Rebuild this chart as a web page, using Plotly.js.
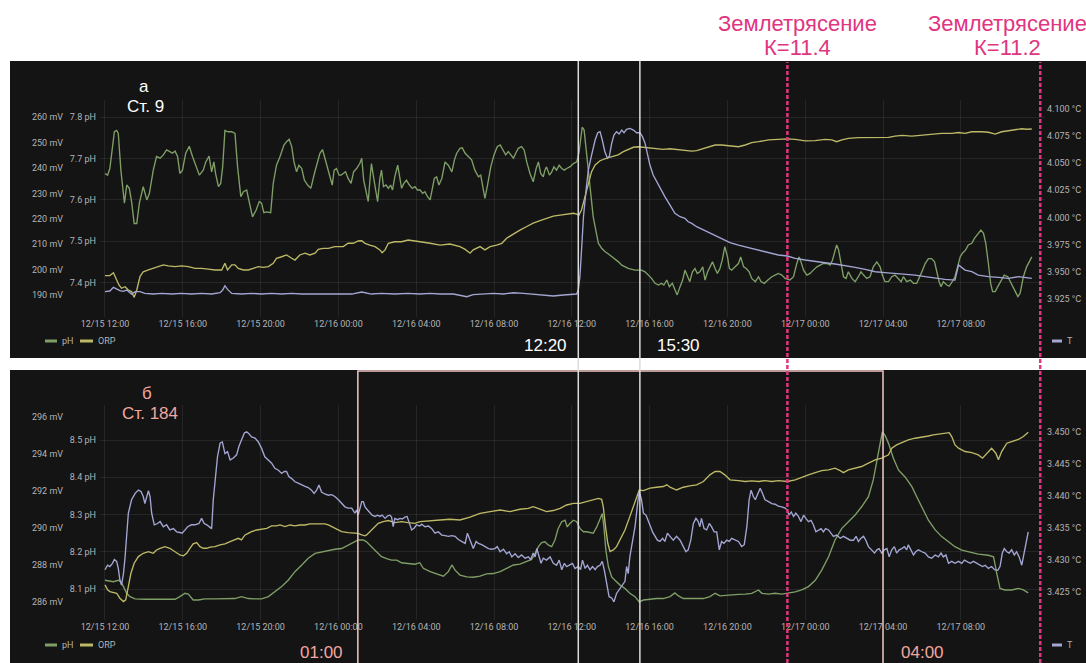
<!DOCTYPE html>
<html>
<head>
<meta charset="utf-8">
<script src="https://cdn.plot.ly/plotly-3.0.1.min.js"></script>
<style>
  html, body { margin: 0; padding: 0; background: #ffffff; }
  #chart { width: 1086px; height: 663px; }
</style>
</head>
<body>
<div id="chart"></div>
<script>
// Station 9 and station 184 monitoring, 12/15 12:00 - 12/17 11:40.
// Every series is a list of [minutes since 12/15 12:00, value].

// Station 9: pH
const st9Ph = [[0,7.664],[8,7.660],[15,7.676],[23,7.725],[29,7.765],[36,7.768],[41,7.761],[49,7.672],[60,7.592],[67,7.636],[75,7.628],[82,7.596],[90,7.543],[98,7.543],[106,7.592],[118,7.632],[129,7.600],[137,7.616],[149,7.672],[159,7.705],[170,7.701],[180,7.709],[190,7.721],[200,7.717],[208,7.713],[216,7.718],[224,7.705],[231,7.664],[239,7.672],[249,7.713],[260,7.730],[270,7.705],[281,7.680],[291,7.660],[303,7.672],[311,7.692],[321,7.706],[329,7.668],[336,7.692],[341,7.664],[350,7.632],[357,7.640],[363,7.680],[370,7.768],[380,7.765],[391,7.765],[401,7.761],[409,7.680],[419,7.608],[427,7.620],[437,7.624],[445,7.592],[455,7.559],[466,7.575],[476,7.596],[483,7.592],[490,7.569],[499,7.571],[511,7.569],[519,7.640],[529,7.684],[540,7.705],[552,7.733],[560,7.741],[568,7.747],[576,7.729],[583,7.692],[591,7.668],[598,7.684],[607,7.676],[615,7.648],[625,7.636],[635,7.628],[646,7.664],[656,7.692],[663,7.713],[671,7.722],[678,7.701],[687,7.676],[694,7.652],[701,7.636],[707,7.672],[714,7.676],[722,7.660],[728,7.660],[735,7.664],[742,7.668],[750,7.652],[759,7.640],[767,7.668],[776,7.676],[786,7.688],[792,7.701],[798,7.648],[805,7.624],[812,7.596],[819,7.664],[822,7.688],[829,7.652],[835,7.624],[841,7.596],[848,7.652],[853,7.672],[859,7.632],[867,7.636],[874,7.628],[881,7.636],[887,7.624],[894,7.656],[903,7.684],[910,7.652],[915,7.628],[922,7.640],[930,7.648],[939,7.636],[948,7.628],[956,7.632],[964,7.624],
[972,7.624],[980,7.616],[987,7.620],[994,7.609],[1003,7.600],[1010,7.632],[1016,7.652],[1023,7.656],[1030,7.636],[1039,7.652],[1049,7.692],[1059,7.684],[1070,7.668],[1078,7.697],[1085,7.713],[1095,7.725],[1102,7.726],[1111,7.713],[1121,7.705],[1131,7.697],[1141,7.672],[1152,7.656],[1159,7.660],[1165,7.632],[1172,7.604],[1180,7.636],[1190,7.680],[1200,7.709],[1210,7.729],[1219,7.733],[1227,7.721],[1236,7.709],[1244,7.717],[1252,7.709],[1260,7.701],[1267,7.713],[1275,7.725],[1285,7.729],[1293,7.721],[1301,7.692],[1311,7.664],[1321,7.644],[1330,7.676],[1337,7.692],[1344,7.664],[1352,7.656],[1357,7.672],[1362,7.680],[1371,7.660],[1378,7.668],[1385,7.680],[1393,7.672],[1401,7.684],[1409,7.676],[1417,7.672],[1424,7.676],[1434,7.680],[1445,7.688],[1455,7.692],[1462,7.713],[1467,7.753],[1472,7.776],[1478,7.769],[1484,7.721],[1491,7.672],[1499,7.608],[1506,7.559],[1514,7.527],[1522,7.495],[1532,7.483],[1542,7.475],[1553,7.469],[1563,7.463],[1573,7.458],[1584,7.450],[1594,7.442],[1604,7.437],[1614,7.434],[1635,7.430],[1655,7.430],[1666,7.426],[1676,7.418],[1686,7.410],[1697,7.398],[1707,7.394],[1717,7.398],[1724,7.394],[1733,7.406],[1741,7.390],[1750,7.398],[1758,7.382],[1765,7.370],[1774,7.390],[1782,7.406],[1789,7.430],[1797,7.414],[1804,7.402],[1812,7.426],[1820,7.434],[1827,7.422],[1835,7.426],[1844,7.438],[1851,7.406],[1859,7.426],[1866,7.438],[1874,7.450],[1882,7.434],[1889,7.422],[1897,7.434],[1904,7.454],[1912,7.487],[1920,7.463],[1926,7.434],[1933,7.430],
[1954,7.446],[1961,7.462],[1970,7.438],[1978,7.434],[1987,7.426],[1995,7.410],[2006,7.402],[2016,7.414],[2024,7.402],[2034,7.398],[2045,7.406],[2057,7.414],[2067,7.418],[2077,7.422],[2088,7.418],[2098,7.410],[2113,7.406],[2124,7.414],[2134,7.446],[2141,7.462],[2147,7.450],[2155,7.430],[2165,7.418],[2175,7.422],[2185,7.430],[2196,7.438],[2206,7.442],[2216,7.446],[2227,7.446],[2237,7.442],[2244,7.454],[2252,7.479],[2257,7.491],[2263,7.479],[2271,7.438],[2278,7.414],[2286,7.410],[2293,7.426],[2304,7.410],[2314,7.402],[2324,7.414],[2332,7.426],[2340,7.418],[2350,7.410],[2360,7.414],[2370,7.438],[2381,7.450],[2391,7.438],[2398,7.418],[2406,7.402],[2417,7.402],[2427,7.414],[2437,7.418],[2448,7.410],[2456,7.402],[2463,7.414],[2473,7.402],[2484,7.406],[2494,7.398],[2504,7.398],[2514,7.414],[2522,7.430],[2530,7.446],[2540,7.458],[2550,7.458],[2559,7.450],[2566,7.426],[2573,7.402],[2579,7.390],[2586,7.402],[2597,7.394],[2604,7.391],[2612,7.400],[2622,7.414],[2630,7.438],[2638,7.462],[2645,7.471],[2655,7.479],[2663,7.491],[2674,7.495],[2682,7.507],[2694,7.519],[2702,7.527],[2710,7.519],[2717,7.495],[2725,7.446],[2732,7.398],[2738,7.378],[2746,7.378],[2754,7.390],[2764,7.406],[2774,7.418],[2785,7.414],[2795,7.398],[2805,7.382],[2816,7.366],[2823,7.374],[2833,7.414],[2843,7.438],[2854,7.454],[2859,7.462]];

// Station 9: ORP, mV
const st9Orp = [[0,197.7],[15,197.7],[26,198.8],[33,196.6],[43,194.0],[51,192.7],[62,193.3],[72,192.0],[82,191.4],[90,189.1],[98,192.0],[108,197.3],[118,199.2],[134,199.9],[149,200.5],[164,201.2],[180,201.9],[195,201.5],[216,201.2],[236,201.5],[257,201.2],[278,200.5],[298,200.5],[319,200.2],[339,199.9],[360,199.9],[370,202.5],[378,199.9],[391,201.9],[401,201.9],[411,200.5],[427,199.9],[442,199.9],[457,200.5],[473,201.2],[488,200.9],[504,201.2],[519,202.5],[529,204.5],[545,205.1],[560,205.8],[576,204.5],[586,203.8],[601,205.8],[617,206.5],[632,205.8],[648,206.5],[658,208.0],[673,208.4],[689,208.4],[709,209.1],[735,209.1],[750,210.4],[766,210.4],[781,211.3],[792,211.4],[802,210.4],[817,209.7],[833,209.1],[848,207.8],[855,206.7],[864,207.8],[874,210.4],[894,211.0],[915,211.0],[935,211.7],[956,211.4],
[972,211.0],[1003,210.4],[1034,209.7],[1064,210.1],[1095,209.1],[1111,208.0],[1126,206.5],[1136,207.8],[1147,208.4],[1157,209.1],[1172,207.8],[1188,209.1],[1208,209.7],[1224,210.4],[1239,212.4],[1260,214.1],[1280,215.6],[1301,217.0],[1321,218.3],[1342,219.3],[1362,220.2],[1383,221.1],[1404,221.5],[1424,221.9],[1445,222.2],[1455,221.9],[1462,221.5],[1470,223.5],[1481,228.8],[1491,234.0],[1501,238.6],[1512,241.2],[1527,242.9],[1548,243.9],[1568,244.5],[1583,245.2],[1599,246.5],[1614,247.4],[1630,248.2],[1645,248.4],[1661,248.2],[1681,247.8],[1702,247.4],[1722,247.4],[1743,247.6],[1763,247.4],[1784,247.1],[1810,246.7],[1825,246.9],[1846,247.8],[1866,248.4],[1882,249.1],[1902,249.1],[1923,248.7],
[1954,248.4],[1975,249.1],[1995,250.0],[2016,250.4],[2047,251.1],[2077,251.3],[2105,251.5],[2129,251.3],[2160,250.7],[2191,250.8],[2221,251.3],[2242,251.1],[2257,250.4],[2273,251.1],[2293,251.7],[2324,252.0],[2355,252.1],[2386,252.1],[2417,252.1],[2437,252.6],[2458,252.9],[2489,252.6],[2520,253.0],[2550,253.4],[2581,253.7],[2612,253.7],[2633,254.0],[2653,253.7],[2674,254.3],[2705,254.3],[2725,254.1],[2746,253.4],[2766,254.3],[2787,254.7],[2807,255.0],[2828,255.5],[2843,255.3],[2859,255.4]];

// Station 9: water temperature, °C
const st9Temp = [[0,3.9315],[15,3.9321],[26,3.9355],[36,3.9336],[46,3.9324],[56,3.9318],[67,3.9330],[82,3.9293],[93,3.9315],[108,3.9315],[123,3.9299],[149,3.9293],[175,3.9299],[206,3.9293],[236,3.9299],[267,3.9293],[298,3.9299],[329,3.9293],[355,3.9305],[363,3.9330],[370,3.9370],[378,3.9336],[391,3.9299],[421,3.9293],[452,3.9299],[483,3.9293],[514,3.9299],[545,3.9293],[576,3.9299],[607,3.9293],[637,3.9293],[668,3.9299],[699,3.9293],[730,3.9299],[761,3.9293],[792,3.9312],[822,3.9293],[853,3.9299],[894,3.9293],[935,3.9299],[971,3.9293],
[1003,3.9299],[1034,3.9293],[1075,3.9293],[1095,3.9284],[1116,3.9268],[1136,3.9287],[1167,3.9293],[1198,3.9299],[1229,3.9293],[1260,3.9305],[1291,3.9299],[1321,3.9293],[1352,3.9284],[1383,3.9275],[1414,3.9284],[1445,3.9287],[1455,3.9293],[1460,3.9330],[1465,3.9453],[1470,3.9699],[1476,4.0006],[1484,4.0252],[1491,4.0437],[1501,4.0575],[1512,4.0714],[1520,4.0781],[1527,4.0791],[1534,4.0714],[1542,4.0606],[1550,4.0545],[1556,4.0566],[1563,4.0683],[1570,4.0760],[1578,4.0791],[1586,4.0769],[1594,4.0806],[1601,4.0781],[1609,4.0812],[1619,4.0821],[1630,4.0806],[1640,4.0781],[1650,4.0781],[1658,4.0745],[1666,4.0683],[1673,4.0591],[1681,4.0483],[1691,4.0391],[1702,4.0329],[1714,4.0268],[1727,4.0191],[1743,4.0114],[1758,4.0037],[1774,4.0006],[1789,3.9991],[1799,3.9960],[1810,3.9945],[1825,3.9914],[1846,3.9883],[1866,3.9853],[1887,3.9822],[1907,3.9791],[1928,3.9767],
[1954,3.9745],[1975,3.9730],[1995,3.9714],[2016,3.9699],[2036,3.9684],[2057,3.9668],[2077,3.9653],[2105,3.9644],[2129,3.9622],[2160,3.9607],[2191,3.9591],[2221,3.9582],[2252,3.9570],[2283,3.9551],[2314,3.9539],[2345,3.9521],[2376,3.9499],[2406,3.9490],[2437,3.9484],[2468,3.9478],[2499,3.9468],[2530,3.9453],[2561,3.9438],[2591,3.9428],[2622,3.9422],[2633,3.9561],[2653,3.9514],[2674,3.9499],[2694,3.9468],[2725,3.9453],[2756,3.9447],[2787,3.9438],[2818,3.9453],[2838,3.9447],[2859,3.9438]];

// Station 184: pH
const st184Ph = [[0,8.124],[10,8.123],[26,8.120],[41,8.124],[49,8.120],[57,8.107],[67,8.089],[77,8.080],[93,8.074],[123,8.073],[154,8.073],[185,8.071],[216,8.073],[231,8.080],[247,8.089],[257,8.087],[272,8.071],[288,8.071],[308,8.074],[339,8.074],[370,8.074],[401,8.075],[421,8.080],[442,8.075],[463,8.074],[483,8.074],[504,8.080],[524,8.093],[545,8.107],[565,8.124],[586,8.147],[607,8.165],[627,8.183],[648,8.196],[668,8.200],[689,8.205],[709,8.207],[730,8.209],[750,8.218],[766,8.227],[781,8.232],[797,8.232],[807,8.227],[822,8.214],[838,8.200],[853,8.187],[869,8.182],[884,8.178],[900,8.178],[915,8.171],[935,8.169],[956,8.167],[971,8.171],
[982,8.156],[1003,8.147],[1023,8.141],[1044,8.135],[1059,8.147],[1070,8.165],[1080,8.151],[1095,8.138],[1116,8.133],[1136,8.132],[1157,8.135],[1177,8.141],[1198,8.142],[1219,8.147],[1239,8.156],[1260,8.165],[1280,8.167],[1301,8.174],[1316,8.180],[1327,8.196],[1337,8.214],[1347,8.225],[1357,8.227],[1368,8.218],[1378,8.214],[1388,8.232],[1398,8.263],[1409,8.281],[1419,8.285],[1426,8.267],[1434,8.276],[1445,8.285],[1455,8.281],[1465,8.263],[1476,8.254],[1486,8.254],[1496,8.251],[1506,8.250],[1517,8.267],[1527,8.290],[1534,8.303],[1539,8.267],[1545,8.205],[1553,8.160],[1563,8.133],[1573,8.124],[1589,8.111],[1604,8.102],[1619,8.089],[1635,8.080],[1648,8.066],[1661,8.071],[1681,8.073],[1702,8.075],[1722,8.075],[1743,8.080],[1758,8.090],[1769,8.082],[1784,8.075],[1804,8.075],[1825,8.073],[1846,8.075],[1866,8.080],[1882,8.089],[1897,8.082],[1918,8.084],
[1954,8.086],[1975,8.087],[1995,8.089],[2016,8.098],[2026,8.089],[2047,8.087],[2067,8.089],[2088,8.087],[2108,8.089],[2129,8.093],[2149,8.098],[2170,8.107],[2191,8.124],[2211,8.151],[2232,8.187],[2252,8.232],[2273,8.263],[2293,8.281],[2314,8.299],[2334,8.321],[2355,8.348],[2370,8.393],[2381,8.446],[2391,8.495],[2398,8.522],[2406,8.513],[2417,8.491],[2432,8.451],[2448,8.419],[2468,8.401],[2489,8.375],[2504,8.348],[2520,8.321],[2540,8.285],[2561,8.259],[2581,8.241],[2602,8.227],[2622,8.214],[2643,8.205],[2663,8.200],[2694,8.194],[2725,8.191],[2741,8.187],[2751,8.142],[2761,8.102],[2776,8.098],[2797,8.098],[2818,8.102],[2833,8.098],[2848,8.090]];

// Station 184: ORP, mV
const st184Orp = [[0,286.94],[8,286.67],[15,286.58],[26,286.53],[36,286.49],[46,286.22],[57,286.04],[64,286.13],[72,286.85],[80,287.57],[90,288.11],[103,288.47],[118,288.65],[134,288.74],[149,288.65],[159,288.83],[170,288.92],[185,289.01],[200,288.92],[216,288.74],[231,288.56],[242,288.51],[252,288.65],[262,288.92],[272,289.16],[283,289.23],[293,289.01],[303,288.92],[314,288.92],[324,288.98],[339,289.01],[355,289.10],[370,289.16],[386,289.28],[401,289.37],[411,289.46],[421,289.37],[432,289.64],[442,289.73],[452,289.82],[468,289.91],[483,289.95],[499,290.00],[514,290.13],[529,290.13],[540,290.18],[555,290.09],[571,290.18],[586,290.13],[601,290.18],[617,290.18],[632,290.24],[648,290.24],[663,290.24],[678,290.24],[689,290.18],[699,290.09],[714,290.00],[730,289.82],[750,289.77],[766,289.73],[781,289.73],[792,289.64],[802,289.59],[807,289.64],[817,289.82],[828,290.00],[843,290.27],[858,290.36],[874,290.42],[894,290.31],[915,290.36],[935,290.31],[956,290.27],
[972,290.36],[1003,290.42],[1034,290.45],[1064,290.49],[1095,290.45],[1126,290.60],[1157,290.81],[1188,290.90],[1219,290.99],[1249,290.90],[1280,291.03],[1306,291.08],[1321,291.17],[1342,291.03],[1362,290.90],[1383,290.96],[1404,291.08],[1424,291.26],[1445,291.35],[1465,291.35],[1486,291.44],[1506,291.53],[1522,291.62],[1532,291.57],[1537,291.17],[1544,290.09],[1551,289.19],[1558,288.74],[1568,288.83],[1578,289.01],[1589,289.37],[1604,289.91],[1619,290.63],[1635,291.44],[1648,292.07],[1661,292.04],[1681,292.17],[1702,292.22],[1722,292.26],[1733,292.35],[1743,292.22],[1763,292.07],[1784,292.22],[1804,292.29],[1825,292.35],[1846,292.53],[1866,292.89],[1882,293.07],[1897,293.07],[1912,292.89],[1928,292.62],
[1954,292.58],[1975,292.53],[1995,292.56],[2016,292.53],[2036,292.58],[2057,292.53],[2077,292.58],[2105,292.53],[2129,292.62],[2149,292.76],[2170,292.89],[2191,293.01],[2211,293.12],[2232,293.16],[2252,293.25],[2268,293.12],[2278,293.01],[2293,293.16],[2314,293.25],[2334,293.34],[2355,293.52],[2376,293.70],[2396,293.79],[2417,293.97],[2427,294.33],[2442,294.51],[2458,294.63],[2478,294.78],[2499,294.87],[2520,294.92],[2540,294.99],[2555,295.05],[2571,295.10],[2591,295.17],[2604,295.17],[2612,294.96],[2622,294.51],[2633,294.33],[2653,294.15],[2674,294.09],[2694,293.97],[2707,293.79],[2720,294.06],[2735,294.33],[2748,294.06],[2756,293.70],[2766,294.15],[2782,294.60],[2797,294.69],[2818,294.81],[2833,294.96],[2848,295.19]];

// Station 184: water temperature, °C
const st184Temp = [[0,3.4285],[8,3.4292],[15,3.4290],[23,3.4295],[29,3.4301],[36,3.4298],[41,3.4287],[46,3.4269],[51,3.4261],[57,3.4279],[62,3.4305],[67,3.4347],[72,3.4373],[82,3.4394],[93,3.4404],[103,3.4409],[111,3.4407],[118,3.4399],[123,3.4388],[129,3.4399],[134,3.4408],[139,3.4399],[144,3.4373],[152,3.4355],[162,3.4357],[170,3.4360],[180,3.4352],[190,3.4355],[200,3.4347],[211,3.4349],[221,3.4344],[231,3.4343],[238,3.4342],[247,3.4347],[255,3.4352],[267,3.4355],[278,3.4355],[290,3.4357],[298,3.4365],[306,3.4357],[314,3.4355],[324,3.4351],[329,3.4349],[334,3.4394],[341,3.4435],[347,3.4461],[355,3.4482],[362,3.4484],[370,3.4466],[378,3.4469],[386,3.4456],[396,3.4459],[406,3.4464],[413,3.4477],[421,3.4487],[430,3.4498],[437,3.4500],[444,3.4497],[452,3.4492],[463,3.4490],[473,3.4484],[483,3.4474],[493,3.4461],[504,3.4456],[514,3.4451],[524,3.4443],[535,3.4440],[545,3.4435],[553,3.4438],[560,3.4438],[567,3.4430],[576,3.4427],[586,3.4422],[596,3.4420],[607,3.4417],[617,3.4415],[627,3.4413],[637,3.4409],[645,3.4404],[653,3.4409],[660,3.4417],[668,3.4406],[678,3.4403],[689,3.4401],[699,3.4402],[709,3.4399],[720,3.4394],[730,3.4388],[740,3.4383],[750,3.4381],[761,3.4381],[771,3.4373],[776,3.4378],[781,3.4370],[786,3.4381],[792,3.4391],[797,3.4391],[802,3.4383],[810,3.4378],[817,3.4373],[824,3.4370],[833,3.4368],[841,3.4370],[848,3.4368],[855,3.4370],[864,3.4365],[872,3.4369],[879,3.4370],[884,3.4367],[889,3.4352],[894,3.4365],[903,3.4363],[910,3.4365],[917,3.4364],[925,3.4367],[932,3.4368],[939,3.4357],[946,3.4347],[954,3.4350],[961,3.4355],[971,3.4353],
[977,3.4356],[987,3.4352],[998,3.4353],[1008,3.4349],[1018,3.4342],[1028,3.4344],[1039,3.4339],[1049,3.4338],[1059,3.4337],[1070,3.4338],[1080,3.4337],[1090,3.4332],[1100,3.4329],[1111,3.4326],[1118,3.4342],[1126,3.4331],[1136,3.4318],[1145,3.4329],[1152,3.4326],[1162,3.4324],[1172,3.4321],[1183,3.4318],[1193,3.4317],[1203,3.4318],[1210,3.4321],[1219,3.4313],[1229,3.4317],[1239,3.4310],[1247,3.4313],[1255,3.4305],[1265,3.4310],[1275,3.4304],[1285,3.4308],[1296,3.4303],[1306,3.4305],[1313,3.4301],[1321,3.4311],[1327,3.4305],[1332,3.4318],[1339,3.4303],[1345,3.4295],[1352,3.4303],[1362,3.4300],[1373,3.4305],[1383,3.4295],[1393,3.4292],[1401,3.4300],[1409,3.4285],[1417,3.4295],[1424,3.4290],[1432,3.4292],[1442,3.4295],[1450,3.4287],[1460,3.4290],[1467,3.4285],[1473,3.4300],[1481,3.4287],[1488,3.4292],[1496,3.4285],[1504,3.4290],[1512,3.4285],[1519,3.4290],[1527,3.4292],[1534,3.4298],[1540,3.4285],[1548,3.4259],[1555,3.4243],[1563,3.4241],[1570,3.4235],[1578,3.4248],[1587,3.4254],[1594,3.4259],[1604,3.4267],[1609,3.4290],[1614,3.4279],[1619,3.4305],[1627,3.4331],[1635,3.4352],[1643,3.4388],[1648,3.4407],[1655,3.4394],[1661,3.4373],[1669,3.4370],[1676,3.4362],[1683,3.4352],[1689,3.4344],[1697,3.4337],[1704,3.4331],[1712,3.4329],[1720,3.4334],[1727,3.4329],[1735,3.4342],[1743,3.4337],[1753,3.4331],[1763,3.4337],[1774,3.4331],[1784,3.4321],[1792,3.4313],[1799,3.4316],[1807,3.4331],[1815,3.4357],[1823,3.4365],[1830,3.4360],[1835,3.4352],[1840,3.4365],[1848,3.4349],[1856,3.4347],[1864,3.4357],[1871,3.4352],[1879,3.4344],[1887,3.4344],[1895,3.4316],[1902,3.4329],[1909,3.4326],[1918,3.4331],[1926,3.4329],[1933,3.4334],
[1954,3.4329],[1964,3.4321],[1972,3.4324],[1980,3.4352],[1987,3.4394],[1993,3.4409],[2000,3.4399],[2006,3.4394],[2014,3.4404],[2021,3.4412],[2028,3.4404],[2036,3.4394],[2047,3.4391],[2057,3.4388],[2067,3.4387],[2077,3.4384],[2088,3.4383],[2098,3.4381],[2105,3.4378],[2110,3.4370],[2117,3.4375],[2124,3.4368],[2131,3.4373],[2139,3.4368],[2147,3.4360],[2155,3.4370],[2162,3.4365],[2170,3.4360],[2178,3.4362],[2185,3.4355],[2193,3.4344],[2201,3.4347],[2209,3.4349],[2216,3.4344],[2223,3.4349],[2232,3.4347],[2240,3.4342],[2247,3.4337],[2257,3.4339],[2268,3.4334],[2278,3.4337],[2288,3.4334],[2299,3.4331],[2309,3.4331],[2317,3.4337],[2324,3.4329],[2332,3.4334],[2340,3.4337],[2347,3.4331],[2355,3.4321],[2365,3.4316],[2374,3.4311],[2381,3.4316],[2388,3.4318],[2396,3.4311],[2404,3.4316],[2412,3.4318],[2419,3.4305],[2427,3.4316],[2435,3.4321],[2442,3.4311],[2450,3.4316],[2458,3.4318],[2466,3.4321],[2473,3.4316],[2478,3.4324],[2486,3.4316],[2494,3.4308],[2501,3.4313],[2509,3.4316],[2520,3.4313],[2530,3.4311],[2540,3.4305],[2550,3.4303],[2561,3.4308],[2571,3.4305],[2579,3.4311],[2586,3.4305],[2594,3.4308],[2602,3.4295],[2612,3.4298],[2622,3.4295],[2633,3.4298],[2643,3.4295],[2651,3.4300],[2658,3.4298],[2669,3.4295],[2679,3.4298],[2689,3.4295],[2699,3.4292],[2707,3.4290],[2715,3.4292],[2725,3.4287],[2735,3.4290],[2744,3.4285],[2754,3.4284],[2761,3.4290],[2768,3.4311],[2774,3.4318],[2782,3.4313],[2789,3.4311],[2797,3.4316],[2805,3.4308],[2812,3.4313],[2820,3.4305],[2828,3.4292],[2836,3.4311],[2843,3.4333],[2848,3.4344]];

// Marked moments, minutes since 12/15 12:00
const markTimes = [1460, 1650];            // 12/16 12:20, 12/16 15:30
const markLabels = ['12:20', '15:30'];
const quakeTimes = [2105, 2885];           // 12/16 23:05, 12/17 12:05
const quakeTitle = 'Землетрясение';
const quakeClass = ['К=11.4', 'К=11.2'];
const windowTimes = [780, 2400];           // 12/16 01:00 - 12/17 04:00
const windowLabels = ['01:00', '04:00'];

// Axis ticks
const timeTicks = ['2021-12-15 12:00', '2021-12-15 16:00', '2021-12-15 20:00', '2021-12-16 00:00',
  '2021-12-16 04:00', '2021-12-16 08:00', '2021-12-16 12:00', '2021-12-16 16:00',
  '2021-12-16 20:00', '2021-12-17 00:00', '2021-12-17 04:00', '2021-12-17 08:00'];
const st9PhTicks = [7.4, 7.5, 7.6, 7.7, 7.8];
const st9OrpTicks = [190, 200, 210, 220, 230, 240, 250, 260];
const st9TempTicks = [3.925, 3.950, 3.975, 4.000, 4.025, 4.050, 4.075, 4.100];
const st184PhTicks = [8.1, 8.2, 8.3, 8.4, 8.5];
const st184OrpTicks = [286, 288, 290, 292, 294, 296];
const st184TempTicks = [3.425, 3.430, 3.435, 3.440, 3.445, 3.450];

// ---- drawing ----
const W = 1086, H = 663;
const px = v => v / W;          // pixel column -> paper x
const py = v => 1 - v / H;      // pixel row -> paper y
const t0 = Date.UTC(2021, 11, 15, 12, 0);
const stamp = m => new Date(t0 + m * 60000).toISOString().slice(0, 23).replace('T', ' ');

const C = {
  ph: '#7f9f66', orp: '#bdb966', temp: '#a3a6d2',
  panel: '#141415', grid: 'rgba(255,255,255,0.075)', tick: '#b3b3b3',
  quake: '#e0357f', mark: '#dcdcdc', win: '#f3c7c7', winText: '#f2a79f'
};
const tickFont = { family: 'Roboto, sans-serif', size: 9, color: C.tick };

function series(pairs, xa, ya, color, name) {
  return {
    type: 'scatter', mode: 'lines', name: name,
    x: pairs.map(p => stamp(p[0])), y: pairs.map(p => p[1]),
    xaxis: xa, yaxis: ya,
    line: { color: color, width: 1.35 },
    showlegend: false, hoverinfo: 'skip'
  };
}

const data = [
  series(st9Ph, 'x', 'y', C.ph, 'pH'),
  series(st9Orp, 'x', 'y2', C.orp, 'ORP'),
  series(st9Temp, 'x', 'y3', C.temp, 'T'),
  series(st184Ph, 'x2', 'y4', C.ph, 'pH'),
  series(st184Orp, 'x2', 'y5', C.orp, 'ORP'),
  series(st184Temp, 'x2', 'y6', C.temp, 'T')
];

const xDomain = [px(100), px(1045)];
const xRange = [stamp(-15.4), stamp(2899.7)];
function timeAxis(anchor) {
  return {
    type: 'date', domain: xDomain, range: xRange, anchor: anchor,
    tickvals: timeTicks, tickformat: '%m/%d %H:%M', tickfont: tickFont,
    showgrid: true, gridcolor: C.grid, gridwidth: 1,
    zeroline: false, showline: false, ticks: '', fixedrange: true
  };
}
function valueAxis(ticks, digits, unit, opts) {
  return Object.assign({
    showline: false, zeroline: false, ticks: '', tickfont: tickFont,
    showgrid: false, fixedrange: true, ticklabelstandoff: 3,
    tickmode: 'array', tickvals: ticks,
    ticktext: ticks.map(v => v.toFixed(digits) + ' ' + unit)
  }, opts);
}

const topDom = [py(317), py(100)];
const botDom = [py(620), py(405)];

const layout = {
  width: W, height: H,
  margin: { l: 0, r: 0, t: 0, b: 0, pad: 0 },
  paper_bgcolor: '#ffffff', plot_bgcolor: 'rgba(0,0,0,0)',
  showlegend: false,
  font: { family: 'Roboto, sans-serif' },
  xaxis: timeAxis('y'),
  xaxis2: timeAxis('y4'),
  yaxis: valueAxis(st9PhTicks, 1, 'pH', { domain: topDom, anchor: 'x', range: [7.3165, 7.8419],
    showgrid: true, gridcolor: C.grid }),
  yaxis2: valueAxis(st9OrpTicks, 0, 'mV', { overlaying: 'y', anchor: 'free', position: px(66),
    range: [181.38, 266.81] }),
  yaxis3: valueAxis(st9TempTicks, 3, '°C', { overlaying: 'y', side: 'right', anchor: 'free',
    position: px(1043), range: [3.90812, 4.10830] }),
  yaxis4: valueAxis(st184PhTicks, 1, 'pH', { domain: botDom, anchor: 'x2', range: [8.01743, 8.59383],
    showgrid: true, gridcolor: C.grid }),
  yaxis5: valueAxis(st184OrpTicks, 0, 'mV', { overlaying: 'y4', anchor: 'free', position: px(66),
    range: [285.043, 296.665] }),
  yaxis6: valueAxis(st184TempTicks, 3, '°C', { overlaying: 'y4', side: 'right', anchor: 'free',
    position: px(1043), range: [3.42067, 3.454159] }),
  shapes: [],
  annotations: []
};

// dark panels
layout.shapes.push(
  { type: 'rect', xref: 'paper', yref: 'paper', x0: px(10), x1: 1.01, y0: py(358), y1: py(61),
    fillcolor: C.panel, line: { width: 0 }, layer: 'below' },
  { type: 'rect', xref: 'paper', yref: 'paper', x0: px(10), x1: 1.01, y0: -0.01, y1: py(370),
    fillcolor: C.panel, line: { width: 0 }, layer: 'below' }
);

const bigFont = (size, color) => ({ family: 'Liberation Sans, Arial, sans-serif', size: size, color: color });

// window of interest on station 184
layout.shapes.push({
  type: 'rect', xref: 'x2', yref: 'paper',
  x0: stamp(windowTimes[0]), x1: stamp(windowTimes[1]), y0: -0.02, y1: py(371),
  line: { color: C.win, width: 1.5 }, fillcolor: 'rgba(0,0,0,0)', layer: 'above'
});
const windowShift = [-13, 16];
windowTimes.forEach((t, i) => layout.annotations.push({
  xref: 'x2', x: stamp(t), yref: 'paper', y: py(652), xanchor: i === 0 ? 'right' : 'left',
  xshift: windowShift[i], yanchor: 'middle', showarrow: false, text: windowLabels[i],
  font: bigFont(17, C.winText)
}));

// 12:20 and 15:30 markers
const markShift = [-9, 15];
markTimes.forEach((t, i) => {
  layout.shapes.push({
    type: 'line', xref: 'x', yref: 'paper', x0: stamp(t), x1: stamp(t), y0: 0, y1: py(61),
    line: { color: C.mark, width: 1.5 }, layer: 'above'
  });
  layout.annotations.push({
    xref: 'x', x: stamp(t), yref: 'paper', y: py(345), xanchor: i === 0 ? 'right' : 'left',
    xshift: markShift[i], yanchor: 'middle', showarrow: false, text: markLabels[i],
    font: bigFont(17, '#ffffff')
  });
});

// earthquakes
const quakeShift = [10, -33];
quakeTimes.forEach((t, i) => {
  layout.shapes.push({
    type: 'line', xref: 'x', yref: 'paper', x0: stamp(t), x1: stamp(t), y0: 0, y1: py(62),
    line: { color: C.quake, width: 2.5, dash: '4px,2px' }, layer: 'above'
  });
  layout.annotations.push(
    { xref: 'x', x: stamp(t), xshift: quakeShift[i], xanchor: 'center', yref: 'paper', y: py(24),
      yanchor: 'middle', showarrow: false, text: quakeTitle, font: bigFont(22, C.quake) },
    { xref: 'x', x: stamp(t), xshift: quakeShift[i], xanchor: 'center', yref: 'paper', y: py(48),
      yanchor: 'middle', showarrow: false, text: quakeClass[i], font: bigFont(22, C.quake) }
  );
});

// panel captions
function caption(x, y, text, color) {
  layout.annotations.push({ xref: 'paper', yref: 'paper', x: px(x), y: py(y), xanchor: 'center',
    yanchor: 'middle', showarrow: false, text: text, font: bigFont(17, color) });
}
caption(144, 87, 'а', '#ffffff');
caption(145, 107, 'Ст. 9', '#ffffff');
caption(147, 393, 'б', C.winText);
caption(150, 413, 'Ст. 184', C.winText);

// series keys under each panel
const keyFont = { family: 'Roboto, sans-serif', size: 9, color: C.tick };
function key(x0, x1, yRow, color, label) {
  layout.shapes.push({ type: 'line', xref: 'paper', yref: 'paper', x0: px(x0), x1: px(x1),
    y0: py(yRow), y1: py(yRow), line: { color: color, width: 3 }, layer: 'above' });
  layout.annotations.push({ xref: 'paper', yref: 'paper', x: px(x1 + 3), y: py(yRow), xanchor: 'left',
    yanchor: 'middle', showarrow: false, text: label, font: keyFont });
}
[341, 645].forEach(row => {
  key(45, 57, row, C.ph, 'pH');
  key(80, 93, row, C.orp, 'ORP');
  key(1052, 1062, row, C.temp, 'T');
});

Plotly.newPlot('chart', data, layout, { displayModeBar: false, staticPlot: true });
</script>
</body>
</html>
